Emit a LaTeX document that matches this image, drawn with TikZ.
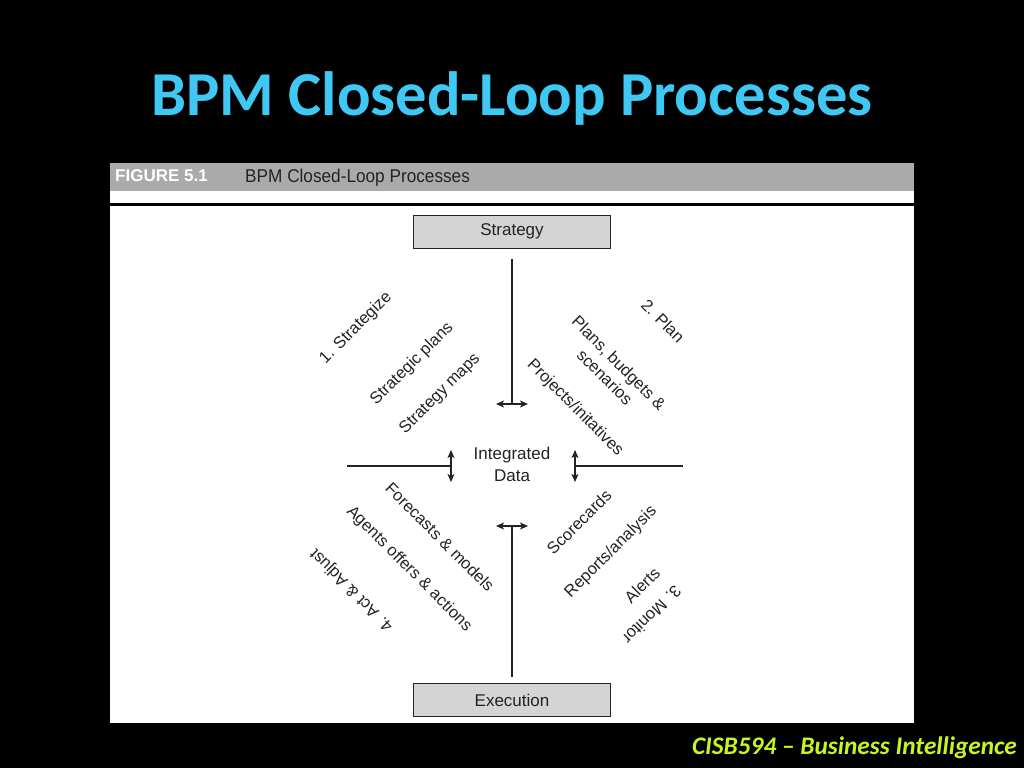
\documentclass[tikz,border=0pt]{standalone}
\usepackage{fontspec}
\setmainfont{Liberation Sans}
\newfontfamily\calibri[Ligatures=TeX]{Carlito}
\newfontfamily\narrowsans[FakeStretch=0.93]{Liberation Sans}
\usetikzlibrary{calc, arrows.meta}
\definecolor{titleblue}{RGB}{64,200,245}
\definecolor{footgreen}{RGB}{200,245,30}
\definecolor{bargray}{RGB}{170,170,170}
\definecolor{boxgray}{RGB}{212,212,212}
\definecolor{ink}{RGB}{35,35,35}
\tikzset{
  phase/.style={draw=ink, fill=boxgray, line width=1pt, minimum width=197pt, minimum height=33pt, inner sep=0pt, text=ink, font=\fontsize{17}{20}\selectfont},
  lbl/.style={text=ink, inner sep=0pt, align=center, font=\fontsize{16.5}{20}\selectfont},
  dbl/.style={{Stealth[length=8pt,width=7pt,inset=2pt]}-{Stealth[length=8pt,width=7pt,inset=2pt]}, draw=ink, line width=1.1pt}
}

\begin{document}
\begin{tikzpicture}[x=1pt, y=-1pt]
\useasboundingbox (0,0) rectangle (1024,768);
\fill [black] (0,0) rectangle (1024,768);
\node at (512,115) [name=title, anchor=base, text=titleblue, font=\calibri\bfseries\fontsize{62.5}{70}\selectfont] {BPM Closed-Loop Processes};
%\draw [red] (152,75) rectangle (872,115);
\fill [white] (110,163) rectangle (914,723);
\fill [bargray] (110,163) rectangle (914,191);
\draw [line width=2.5pt] (110,204.5) -- (914,204.5);
\node at (115,181.5) [name=fig, anchor=base west, inner sep=0pt, text=white, font=\bfseries\fontsize{17}{18}\selectfont] {FIGURE 5.1};
\node at (245,182) [name=figtitle, anchor=base west, inner sep=0pt, text=ink, font=\narrowsans\fontsize{18.5}{20}\selectfont] {BPM Closed-Loop Processes};
\node at (1017,754) [name=footer, anchor=base east, inner sep=0pt, text=footgreen, font=\calibri\bfseries\itshape\fontsize{25.3}{30}\selectfont] {CISB594 – Business Intelligence};
% boxes and data
\node at (512,231.5) [name=strategy, phase] {Strategy};
\node at (512,700) [name=execution, phase] {Execution};
\node at (512,464) [name=data, lbl, font=\fontsize{17}{22}\selectfont] {Integrated\\Data};
\coordinate (top) at (512,404);
\coordinate (bot) at (512,526);
\coordinate (lft) at (451,466);
\coordinate (rgt) at (575,466);
\coordinate (lend) at (347,466);
\coordinate (rend) at (683,466);
\draw [ink, line width=1.1pt] ([yshift=-10pt]strategy.south) -- (top);
\draw [ink, line width=1.1pt] ([yshift=6pt]execution.north) -- (bot);
\draw [ink, line width=1.1pt] (lend) -- (lft);
\draw [ink, line width=1.1pt] (rend) -- (rgt);
\foreach \c/\d in {top/0, bot/0, lft/90, rgt/90}
  \draw [dbl] ($(\c)+(\d:-16)$) -- ($(\c)+(\d:16)$);
% 1. strategize
\node at (356,328) [name=s1, lbl, rotate=45] {1. Strategize};
\node at (412,364) [name=s2, lbl, rotate=45] {Strategic plans};
\node at (440,394) [name=s3, lbl, rotate=45] {Strategy maps};
% 2. plan
\node at (663,321) [name=p1, lbl, rotate=-45] {2. Plan};
\node at (612,370) [name=p2, lbl, rotate=-45] {Plans, budgets \&\\scenarios};
\node at (575,408) [name=p3, lbl, rotate=-45] {Projects/initatives};
% 3. monitor
\node at (579,522) [name=m1, lbl, rotate=45] {Scorecards};
\node at (611,552) [name=m2, lbl, rotate=45] {Reports/analysis};
\node at (642,585) [name=m3, lbl, rotate=45] {Alerts};
\node at (652,615) [name=m4, lbl, rotate=225] {3. Monitor};
% 4. act
\node at (440,537) [name=a1, lbl, rotate=-45] {Forecasts \& models};
\node at (409,569) [name=a2, lbl, rotate=-45] {Agents offers \& actions};
\node at (352,590) [name=a3, lbl, rotate=135] {4. Act \& Adjust};
\end{tikzpicture}
\end{document}
